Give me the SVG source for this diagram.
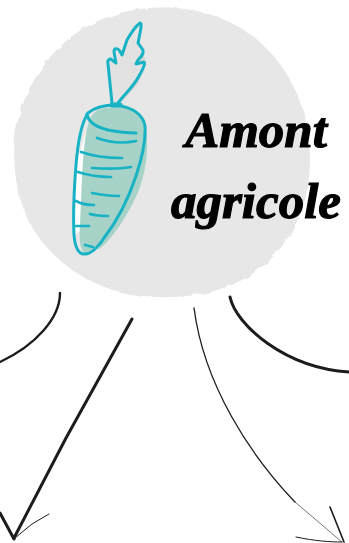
<svg xmlns="http://www.w3.org/2000/svg" width="349" height="543" viewBox="0 0 349 543">
<defs><filter id="rough" x="-5%" y="-5%" width="110%" height="110%"><feTurbulence type="fractalNoise" baseFrequency="0.09" numOctaves="2" seed="4"/><feDisplacementMap in="SourceGraphic" scale="4"/></filter></defs>
<style>
.c{fill:none;stroke:#17b3c4;stroke-width:3;stroke-linecap:round;stroke-linejoin:round}
.s{fill:none;stroke:#17b3c4;stroke-width:2.7;stroke-linecap:round}
.k{fill:none;stroke:#1c1c1c;stroke-linecap:round;stroke-linejoin:round}
.t{font-family:"Liberation Serif",serif;font-weight:700;font-style:italic;font-size:51px;fill:#000;stroke:#000;stroke-width:1.2;text-anchor:middle}
</style>
<g id="blob"><path filter="url(#rough)" d="M150 8C190 5 232 16 262 44C292 72 310 112 310 160C310 206 290 246 258 270C226 294 182 300 142 296C100 291 62 270 38 236C18 208 12 172 15 138C19 98 42 58 76 33C98 18 124 10 150 8Z" fill="#e7e7e7"/></g>
<g id="carrot">
<path d="M125 72L139 38L146 63L138 84L120 104L118 92Z" fill="#d8d8d8"/>
<path d="M108 62L113 60L120 56L133 36L139 44L143 52L138 62L145 63L137 80L118 104L112 103Z" fill="#e2e2e2"/>
<path d="M88 125L76 165L74 235L82 230Z" fill="#fff"/>
<path d="M98 110C112 105 130 107 138 113C146 122 149 135 145 155C141 178 128 210 114 228C104 241 92 254 86 254C80 252 79 240 80 225C82 190 82 145 88 125C90 117 93 113 98 110Z" fill="#a6d2c8"/>
<path d="M146 130C149 150 146 172 138 192C130 212 112 240 98 250L112 215L132 175L142 145Z" fill="#a6d2c8"/>
<path class="c" d="M112 103L108 64C107 60 110 58 112 60L116 63L114 52C114 48 117 48 119 50L122 55L127 40C131 33 136 26 140 23C142 23 141 28 140 33L138 43L143 50C144 54 141 57 138 60L136 64L144 62C146 63 142 71 139 76C134 86 124 95 118 103"/>
<path class="c" d="M116 105C105 105 94 108 88 113C82 122 78 140 76 165C74 190 73 215 74 235C75 248 79 255 85 254C92 254 98 247 104 238C118 220 128 200 136 176C142 158 146 140 145 126C143 115 135 108 116 105Z"/>
<path d="M112 105L120 105" stroke="#17b3c4" stroke-width="5" stroke-linecap="round"/>
<path class="c" d="M87 114C88 122 96 127 108 130C118 132 128 133 136 133"/>
<path class="s" d="M97 138C108 142 122 144 136 141"/>
<path class="s" d="M81 152C95 157 110 158 122 158"/>
<path class="s" d="M92 168C105 169 120 169 131 167"/>
<path class="s" d="M78 172C90 176 100 177 111 177"/>
<path class="s" d="M92 193C102 195 111 196 119 196"/>
<path class="s" d="M76 201C83 205 90 205 94 205"/>
<path class="s" d="M90 214C97 216 104 216 108 216"/>
<path class="s" d="M76 226C81 226 85 226 89 226"/>
<path class="s" d="M85 245L93 247"/>
</g>
<g id="label">
<text class="t" x="256" y="147">Amont</text>
<text class="t" x="256" y="218">agricole</text>
</g>
<g id="connectors">
<path class="k" stroke-width="2.4" d="M60 293C60 318 36 345 0 362"/>
<path class="k" stroke-width="3" d="M132 319L66 438L14 538"/>
<path class="k" stroke-width="3" d="M0 513L14 539"/>
<path class="k" stroke-width="1" d="M15 538L32 524L49 514"/>
<path class="k" stroke-width="3" d="M230 297C236 325 285 368 349 372"/>
<path class="k" stroke-width="1.3" d="M194 308C204 385 250 455 295 502"/>
<path class="k" stroke-width="0.6" d="M295 502L342 542"/>
<path class="k" stroke-width="1.6" d="M330 507L344 542"/>
<path class="k" stroke-width="1" d="M296 537C315 541 330 542 342 542"/>
</g>
</svg>
